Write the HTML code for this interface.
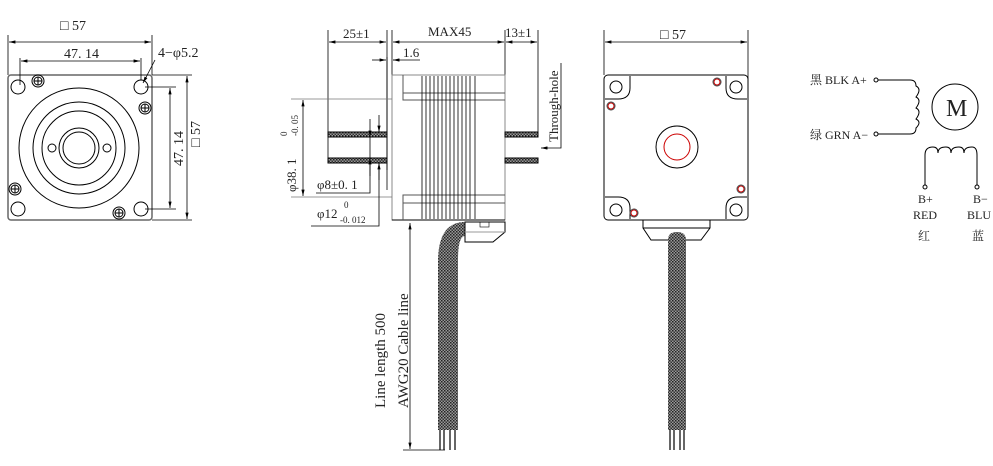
<!DOCTYPE html>
<html><head><meta charset="utf-8"><style>
body{margin:0;background:#fff}
svg{display:block}
text{font-family:"Liberation Serif","Noto Serif CJK SC",serif;fill:#222}
</style></head><body>
<svg width="993" height="466" viewBox="0 0 993 466" xmlns="http://www.w3.org/2000/svg">
<defs>
<pattern id="hatch" width="3" height="3" patternUnits="userSpaceOnUse">
<rect width="3" height="3" fill="#999"/><rect width="1.5" height="1.5" fill="#222"/><rect x="1.5" y="1.5" width="1.5" height="1.5" fill="#333"/>
</pattern>
<marker id="a" markerWidth="8" markerHeight="6" refX="8" refY="3" orient="auto-start-reverse"><path d="M0,1 L8,3 L0,5z" fill="#000"/></marker>
<g id="scr"><circle r="6" fill="none" stroke="#000"/><circle r="4" fill="none" stroke="#000"/><path d="M-4,0H4M0,-4V4" stroke="#000"/></g>
</defs>
<g stroke="#000" fill="none" stroke-width="1">
<!-- FRONT VIEW -->
<rect x="8" y="75" width="144" height="145" rx="3" stroke="#666" stroke-width="1.5"/>
<circle cx="18" cy="87" r="7"/><circle cx="141" cy="87" r="7"/><circle cx="18" cy="209" r="7"/><circle cx="141" cy="209" r="7"/>
<circle cx="79" cy="148" r="60"/><circle cx="79" cy="148" r="46"/><circle cx="79" cy="148" r="37"/>
<circle cx="79" cy="148" r="20"/><circle cx="79" cy="148" r="16"/>
<circle cx="52" cy="148" r="4"/><circle cx="107" cy="148" r="4"/>
<use href="#scr" x="38" y="81"/><use href="#scr" x="145" y="108"/><use href="#scr" x="15" y="189"/><use href="#scr" x="119" y="213"/>
<path d="M8,35V75M152,35V75" stroke-width="0.8"/>
<path d="M9,42H151" marker-start="url(#a)" marker-end="url(#a)" stroke-width="0.8"/>
<path d="M20,58V85M141,58V80" stroke-width="0.8"/>
<path d="M21,61H140" marker-start="url(#a)" marker-end="url(#a)" stroke-width="0.8"/>
<path d="M155,60L143,83" stroke-width="0.8" marker-end="url(#a)"/>
<path d="M145,87H176M145,209H176M152,75H192M152,220H192" stroke-width="0.8"/>
<path d="M170,88V208" marker-start="url(#a)" marker-end="url(#a)" stroke-width="0.8"/>
<path d="M187,76V219" marker-start="url(#a)" marker-end="url(#a)" stroke-width="0.8"/>
<!-- SIDE VIEW -->
<path d="M328,30V162M387,30V170M392,30V75M505,30V75M538,30V132" stroke-width="0.8"/>
<path d="M329,42H386" marker-start="url(#a)" marker-end="url(#a)" stroke-width="0.8"/>
<path d="M393,42H504" marker-start="url(#a)" marker-end="url(#a)" stroke-width="0.8"/>
<path d="M506,42H537" marker-start="url(#a)" marker-end="url(#a)" stroke-width="0.8"/>
<path d="M372,60H386" marker-end="url(#a)" stroke-width="0.8"/><path d="M400,60H393" marker-end="url(#a)" stroke-width="0.8"/><path d="M393,60H420" stroke-width="0.8"/>
<path d="M387,57V190" stroke-width="0.8"/>
<rect x="392" y="75" width="113" height="145" stroke="#888" stroke-width="1"/>
<path d="M392,220H505" />
<path d="M403,75V100H505M403,93H505M403,220V195H505M403,203H505" stroke="#555"/>
<path d="M422,76V219M426,76V219M430,76V219M434,76V219M438,76V219M442,76V219M446,76V219M450,76V219M454,76V219M458,76V219M462,76V219M466,76V219M470,76V219M475,76V219" stroke-width="0.8"/>
<rect x="328" y="132" width="59" height="5" fill="url(#hatch)"/><rect x="328" y="158" width="59" height="5" fill="url(#hatch)"/>
<rect x="505" y="132" width="33" height="5" fill="url(#hatch)"/><rect x="505" y="158" width="33" height="5" fill="url(#hatch)"/>
<path d="M291,99H392M291,197H392" stroke="#777" stroke-width="0.8"/>
<path d="M303,100V196" marker-start="url(#a)" marker-end="url(#a)" stroke-width="0.8"/>
<path d="M370,119V137" marker-end="url(#a)" stroke-width="0.8"/><path d="M370,176V158" marker-end="url(#a)" stroke-width="0.8"/><path d="M370,137V193H316" stroke-width="0.8"/>
<path d="M379,115V132" marker-end="url(#a)" stroke-width="0.8"/><path d="M379,180V163" marker-end="url(#a)" stroke-width="0.8"/><path d="M379,163V226H311" stroke-width="0.8"/>
<path d="M561,63V148H545" stroke-width="0.8"/><path d="M548,148H541" marker-end="url(#a)" stroke-width="0.8"/>
<!-- cable -->
<path d="M465,222V236 Q458,236 458,260 V430 H438 V262 Q438,222 465,222Z" fill="url(#hatch)" stroke="none"/>
<path d="M440,430V450M444,430V450M450,430V450M455,430V450" stroke-width="1.2"/>
<path d="M465,222H505V232L493,242H465Z"/><path d="M465,232H505" stroke="#999"/>
<rect x="480" y="222" width="9" height="5" stroke-width="0.6"/>
<path d="M410,223V449" marker-start="url(#a)" marker-end="url(#a)" stroke-width="0.8"/>
<path d="M403,450H445" stroke-width="0.8"/>
<!-- REAR VIEW -->
<path d="M604,30V75M748,30V85" stroke-width="0.8"/>
<path d="M605,42H747" marker-start="url(#a)" marker-end="url(#a)" stroke-width="0.8"/>
<rect x="604" y="75" width="144" height="145" rx="4"/>
<path d="M630,76V88Q630,99 618,99H605"/>
<path d="M726,76V88Q726,99 738,99H747"/>
<path d="M630,219V208Q630,197 618,197H605"/>
<path d="M726,219V208Q726,197 738,197H747"/>
<circle cx="616" cy="87" r="6"/><circle cx="736" cy="87" r="6"/><circle cx="616" cy="210" r="6"/><circle cx="736" cy="210" r="6"/>
<g stroke="#c00"><circle cx="717" cy="82" r="3"/><circle cx="611" cy="106" r="3"/><circle cx="741" cy="189" r="3"/><circle cx="634" cy="213" r="3"/><circle cx="677" cy="147" r="13"/></g>
<g stroke="#444"><circle cx="717" cy="82" r="4"/><circle cx="611" cy="106" r="4"/><circle cx="741" cy="189" r="4"/><circle cx="634" cy="213" r="4"/></g>
<circle cx="677" cy="147" r="21"/>
<path d="M643,220V228L651,240H701L710,228V220M643,228H710"/>
<path d="M668,240 Q668,232 677,232 Q686,232 686,240V430H668Z" fill="url(#hatch)" stroke="none"/>
<path d="M670,430V450M674,430V450M680,430V450M684,430V450" stroke-width="1.2"/>
<!-- WIRING -->
<circle cx="876" cy="80" r="2"/><circle cx="876" cy="134" r="2"/>
<path d="M878,80H910Q916,80 916,86Q922,89 916,97Q922,100 916,108Q922,111 916,119Q922,122 916,128Q916,134 910,134H878"/>
<circle cx="955" cy="107" r="23"/>
<path d="M925,185V155Q925,147 933,147Q938,147 938,153Q938,147 946,147Q951,147 951,153Q951,147 959,147Q964,147 964,153Q964,147 972,147Q977,147 977,155V185"/>
<circle cx="925" cy="187" r="2"/><circle cx="977" cy="187" r="2"/>
</g>
<g font-size="14">
<text x="60" y="30">□ 57</text>
<text x="64" y="58">47. 14</text>
<text x="158" y="57">4−φ5.2</text>
<text transform="translate(183,166) rotate(-90)">47. 14</text>
<text transform="translate(200,147) rotate(-90)">□ 57</text>
<text x="343" y="38" font-size="13">25±1</text>
<text x="428" y="36" font-size="13">MAX45</text>
<text x="505" y="37" font-size="13">13±1</text>
<text x="403" y="57" font-size="13">1.6</text>
<text transform="translate(296,192) rotate(-90)" font-size="13">φ38. 1</text>
<text transform="translate(287,136) rotate(-90)" font-size="9">0</text>
<text transform="translate(298,136) rotate(-90)" font-size="9">-0. 05</text>
<text x="317" y="189" font-size="13">φ8±0. 1</text>
<text x="317" y="218" font-size="13">φ12</text>
<text x="344" y="208" font-size="9">0</text>
<text x="340" y="223" font-size="9">-0. 012</text>
<text transform="translate(558,142) rotate(-90)" font-size="13">Through-hole</text>
<text transform="translate(385,408) rotate(-90)" font-size="15">Line length 500</text>
<text transform="translate(408,408) rotate(-90)" font-size="15">AWG20 Cable line</text>
<text x="660" y="39">□ 57</text>
<text x="810" y="84" font-size="12">黑 BLK A+</text>
<text x="810" y="139" font-size="12">绿 GRN A−</text>
<text x="946" y="116" font-size="24" font-family="Liberation Sans,sans-serif" fill="#444">M</text>
<text x="918" y="203" font-size="12">B+</text>
<text x="913" y="219" font-size="12">RED</text>
<text x="918" y="240" font-size="12">红</text>
<text x="973" y="203" font-size="12">B−</text>
<text x="967" y="219" font-size="12">BLU</text>
<text x="972" y="240" font-size="12">蓝</text>
</g>
</svg>
</body></html>
